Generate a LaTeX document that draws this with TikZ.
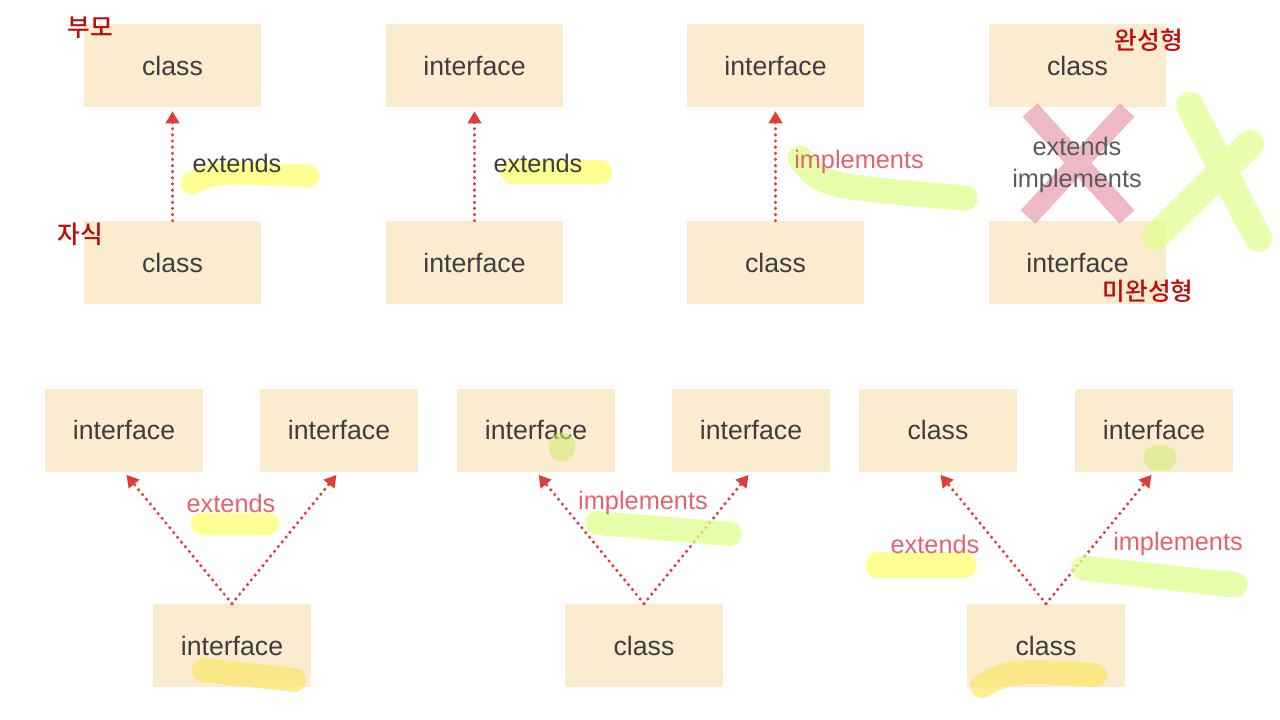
\documentclass[tikz,border=0pt]{standalone}
\usepackage{fontspec}
\setmainfont{Liberation Sans}
\newfontfamily\krfont{Noto Sans CJK KR Medium}
\usetikzlibrary{arrows.meta}
\definecolor{boxfill}{RGB}{251,235,207}
\definecolor{boxtext}{RGB}{62,62,66}
\definecolor{arrowred}{RGB}{222,62,58}
\definecolor{labelpink}{RGB}{228,98,112}
\definecolor{krred}{RGB}{190,10,10}
\definecolor{hlyellow}{RGB}{255,255,110}
\definecolor{hlgold}{RGB}{250,232,112}
\definecolor{hlgreen}{RGB}{222,255,140}
\definecolor{crosspink}{RGB}{232,160,178}

\begin{document}
\begin{tikzpicture}[x=0.75pt,y=-0.75pt,
  topbox/.style={fill=boxfill,minimum width=132.75pt,minimum height=62.25pt,
    inner sep=0pt,text=boxtext,font=\fontsize{20}{24}\selectfont},
  lowbox/.style={topbox,minimum width=118.5pt},
  rel/.style={arrowred,line width=2.6pt,line cap=round,dash pattern=on 0pt off 4.6pt,
    -{Triangle[width=10pt,length=9pt]},shorten >=3pt},
  lbl/.style={inner sep=0pt,font=\fontsize{19}{23}\selectfont},
  kr/.style={inner sep=0pt,text=krred,font=\krfont\fontsize{18.5}{22}\selectfont},
  hl/.style={line width=18pt,line cap=round,opacity=0.75}]
  \useasboundingbox (0,0) rectangle (1280,720);

  % upper row
  \node[topbox] (p1) at (172.5,65.5) {class};
  \node[topbox] (c1) at (172.5,262.5) {class};
  \node[topbox] (p2) at (474.5,65.5) {interface};
  \node[topbox] (c2) at (474.5,262.5) {interface};
  \node[topbox] (p3) at (775.5,65.5) {interface};
  \node[topbox] (c3) at (775.5,262.5) {class};
  \node[topbox] (p4) at (1077.5,65.5) {class};
  \node[topbox] (c4) at (1077.5,262.5) {interface};

  \draw[rel] (c1) -- (p1);
  \draw[rel] (c2) -- (p2);
  \draw[rel] (c3) -- (p3);

  \draw[hlyellow,hl,line width=17pt] (192,183) .. controls (215,172) .. (308,176);
  \draw[hlyellow,hl] (513,172) -- (600,172);
  \draw[hlgreen,hl,line width=19pt] (800,158) .. controls (822,186) .. (965,198);
  \draw[crosspink,line width=15pt,opacity=0.75]
    (1030,110) -- (1127,217) (1127,110) -- (1028,217);
  \draw[hlgreen,line width=21pt,line cap=round,opacity=0.7]
    (1190,106) -- (1258,238) (1156,236) -- (1250,144);

  \node[lbl,text=boxtext] (e1) at (237,163) {extends};
  \node[lbl,text=boxtext] (e2) at (538,163) {extends};
  \node[lbl,text=labelpink] (i3) at (859,162) {implements};
  \node[lbl,text=boxtext!85] (e4) at (1077,146) {extends};
  \node[lbl,text=boxtext!85] (i4) at (1077,181) {implements};

  \node[kr] (parent) at (90,28) {부모};
  \node[kr] (child) at (80,234) {자식};
  \node[kr] (done) at (1149,40) {완성형};
  \node[kr] (undone) at (1148,291) {미완성형};

  % lower row
  \node[lowbox] (al) at (124,430) {interface};
  \node[lowbox] (ar) at (339,430) {interface};
  \node[lowbox] (ac) at (232,645.5) {interface};
  \node[lowbox] (bl) at (536,430) {interface};
  \node[lowbox] (br) at (751,430) {interface};
  \node[lowbox] (bc) at (644,645.5) {class};
  \node[lowbox] (cl) at (938,430) {class};
  \node[lowbox] (cr) at (1154,430) {interface};
  \node[lowbox] (cc) at (1046,645.5) {class};

  \draw[rel] (ac.north) -- (al.south);
  \draw[rel] (ac.north) -- (ar.south);
  \draw[rel] (bc.north) -- (bl.south);
  \draw[rel] (bc.north) -- (br.south);
  \draw[rel] (cc.north) -- (cl.south);
  \draw[rel] (cc.north) -- (cr.south);

  \draw[hlyellow,hl,line width=17pt] (202,524) -- (268,524);
  \draw[hlgold,hl] (204,670) -- (294,680);
  \draw[hlgreen,hl] (597,523) -- (730,534);
  \fill[hlgreen!85!olive,opacity=0.6] (562,447) ellipse (10pt and 11pt);
  \draw[hlyellow,hl,line width=19pt] (878,565) -- (964,565);
  \draw[hlgreen,hl,line width=19pt] (1084,568) -- (1235,585);
  \fill[hlgreen!85!olive,opacity=0.6] (1160,458) ellipse (12.5pt and 10pt);
  \draw[hlgold,hl] (982,686) .. controls (1012,670) .. (1095,675);

  \node[lbl,text=labelpink] (ea) at (231,503) {extends};
  \node[lbl,text=labelpink] (ib) at (643,503) {implements};
  \node[lbl,text=labelpink] (ec) at (935,544) {extends};
  \node[lbl,text=labelpink] (ic) at (1178,544) {implements};
\end{tikzpicture}
\end{document}
